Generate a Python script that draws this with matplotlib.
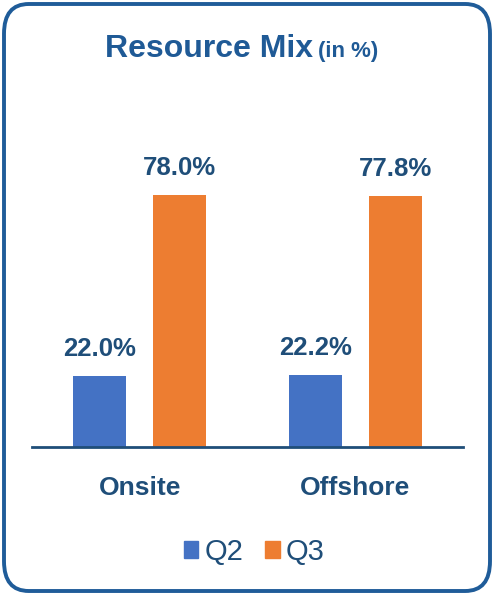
import matplotlib
matplotlib.use("Agg")
import matplotlib.pyplot as plt
from matplotlib.patches import FancyBboxPatch, Patch
import numpy as np

categories = ["Onsite", "Offshore"]
series_names = ["Q2", "Q3"]
q2_values = [22.0, 22.2]
q3_values = [78.0, 77.8]

blue = "#4472C4"
orange = "#ED7D31"
navy = "#1F4E79"
title_color = "#1F5A96"
border_color = "#1F5C99"

fig = plt.figure(figsize=(4.94, 5.95), dpi=100)
fig.patch.set_facecolor("white")

W, H = 494, 595
border = FancyBboxPatch((4 / W, 4 / H), (W - 8) / W, (H - 8) / H,
                        boxstyle="round,pad=0,rounding_size=0.05",
                        transform=fig.transFigure, facecolor="none",
                        edgecolor=border_color, linewidth=2.8, zorder=-5)
fig.patches.append(border)

ax = fig.add_axes([32 / W, 148 / H, 431 / W, 323 / H])
ax.set_facecolor("none")
x = np.arange(len(categories))
bw = 0.245
off = 0.185
b1 = ax.bar(x - off, q2_values, bw, color=blue, zorder=2)
b2 = ax.bar(x + off, q3_values, bw, color=orange, zorder=2)
ax.set_xlim(-0.5, 1.5)
ax.set_ylim(0, 100)

fam = ["Liberation Sans", "DejaVu Sans"]
for bars, vals in ((b1, q2_values), (b2, q3_values)):
    for rect, v in zip(bars, vals):
        ax.annotate(f"{v:.1f}%", xy=(rect.get_x() + rect.get_width() / 2, v),
                    xytext=(0, 14.4), textcoords="offset points",
                    ha="center", va="baseline", fontsize=18.5, fontweight="bold",
                    color=navy, family=fam)

for s in ["top", "right", "left"]:
    ax.spines[s].set_visible(False)
ax.spines["bottom"].set_color(navy)
ax.spines["bottom"].set_linewidth(2)
ax.set_yticks([])
ax.set_xticks(x)
ax.set_xticklabels(categories, fontsize=19, fontweight="bold", color=navy, family=fam)
ax.tick_params(axis="x", length=0, pad=21)

fig.text(313 / W, (H - 57) / H, "Resource Mix", ha="right", va="baseline",
         fontsize=23, fontweight="bold", color=title_color, family=fam)
fig.text(318 / W, (H - 57) / H, "(in %)", ha="left", va="baseline",
         fontsize=16, fontweight="bold", color=title_color, family=fam)

handles = [Patch(color=blue), Patch(color=orange)]
fig.legend(handles, series_names, loc="center", bbox_to_anchor=(254 / W, (H - 552) / H),
           ncol=2, frameon=False, handlelength=0.5, handleheight=0.5,
           handletextpad=0.2, columnspacing=0.75,
           prop={"family": fam, "size": 21})
for t in fig.legends[0].get_texts():
    t.set_color(navy)

fig.savefig("out.png", dpi=100, facecolor="white")
